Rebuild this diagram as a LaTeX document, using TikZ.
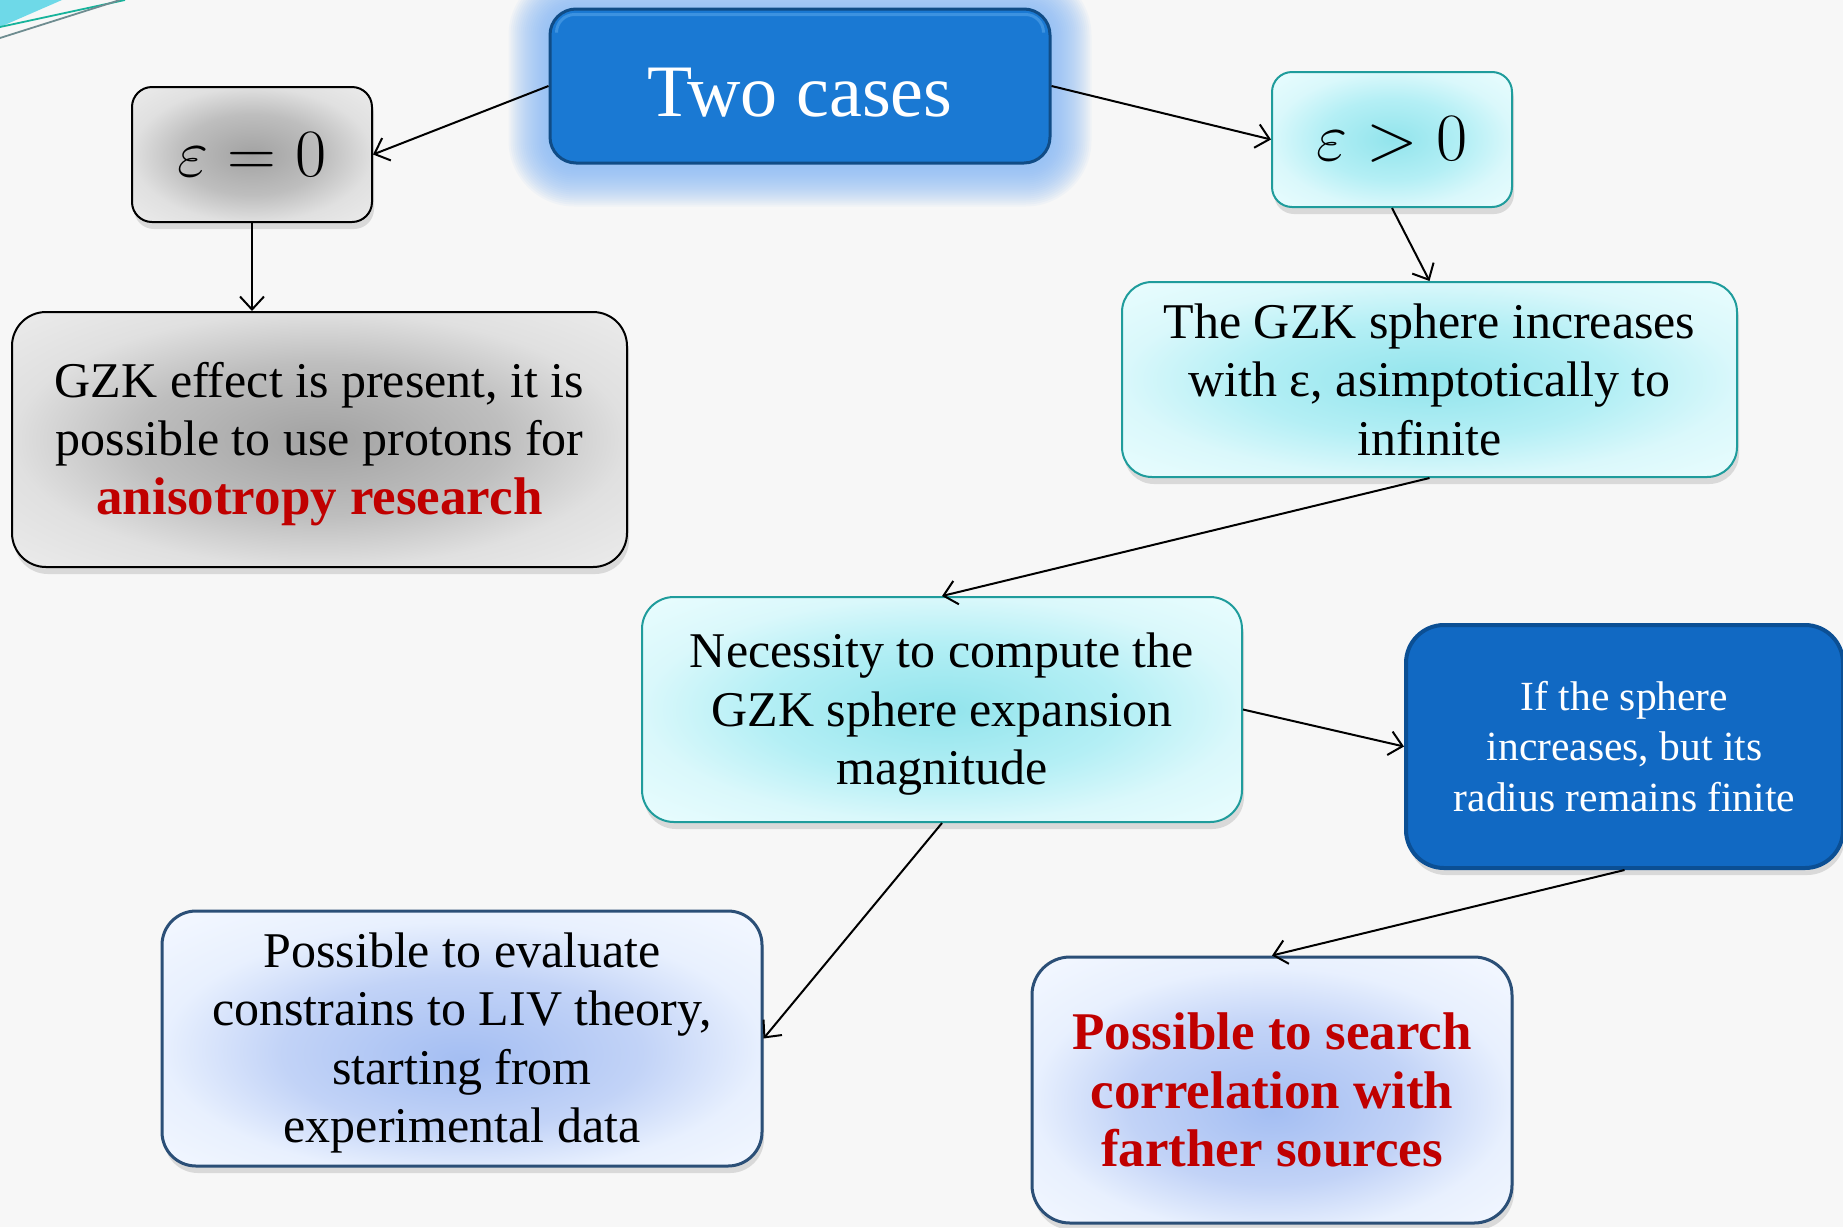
\documentclass[tikz,border=0pt]{standalone}
\usepackage{graphicx}
\usepackage{fontspec}
\setmainfont{Liberation Serif}
\usetikzlibrary{arrows.meta,shadows,calc}

\definecolor{bgcol}{HTML}{F7F7F7}
\definecolor{swoosh}{HTML}{6ED9E8}
\definecolor{swooshline}{HTML}{17B39B}
\definecolor{swooshgrey}{HTML}{6E8C90}
\definecolor{headblue}{HTML}{1A79D3}
\definecolor{headtop}{HTML}{3C92E0}
\definecolor{headedge}{HTML}{104C86}
\definecolor{glowblue}{HTML}{86B9F4}
\definecolor{greyin}{HTML}{A2A2A2}
\definecolor{greymid}{HTML}{BEBEBE}
\definecolor{greyout}{HTML}{E0E0E0}
\definecolor{greycorner}{HTML}{ECECEC}
\definecolor{cyanin}{HTML}{92E4EC}
\definecolor{cyanmid}{HTML}{B4EFF5}
\definecolor{cyanout}{HTML}{DAF8FB}
\definecolor{cyancorner}{HTML}{EAFDFE}
\definecolor{tealedge}{HTML}{1F9C9C}
\definecolor{lbin}{HTML}{A4BEF2}
\definecolor{lbmid}{HTML}{C2D3F7}
\definecolor{lbout}{HTML}{E8F0FE}
\definecolor{lbcorner}{HTML}{F4F8FF}
\definecolor{navyedge}{HTML}{2B4F77}
\definecolor{midblue}{HTML}{1169C3}
\definecolor{midedge}{HTML}{0B4F94}
\definecolor{alert}{HTML}{C00000}

% soft radial fills; the central 50bp square is stretched over the box,
% so 25bp is the edge of the box and 36bp its corners
\pgfdeclareradialshading{greyfill}{\pgfpoint{0bp}{0bp}}{color(0bp)=(greyin); color(15bp)=(greymid); color(25bp)=(greyout); color(36bp)=(greycorner); color(50bp)=(greycorner)}
\pgfdeclareradialshading{cyanfill}{\pgfpoint{0bp}{0bp}}{color(0bp)=(cyanin); color(15bp)=(cyanmid); color(25bp)=(cyanout); color(36bp)=(cyancorner); color(50bp)=(cyancorner)}
\pgfdeclareradialshading{palefill}{\pgfpoint{0bp}{-4bp}}{color(0bp)=(lbin); color(15bp)=(lbmid); color(25bp)=(lbout); color(36bp)=(lbcorner); color(50bp)=(lbcorner)}

% extra height on the first line to set the text block a little lower
\newcommand\toppad{\rule{0pt}{44pt}}
% large formula: set at \Huge and enlarged
\newcommand\bigformula[1]{\scalebox{2.72}{\Huge$#1$}}

\pgfdeclarelayer{bg}
\pgfdeclarelayer{glow}
\pgfsetlayers{bg,glow,main}

\begin{document}
\begin{tikzpicture}[x=1pt,y=-1pt,
  box/.style={rounded corners=28pt, line width=2pt, inner sep=0pt, align=center,
    drop shadow={shadow xshift=2pt, shadow yshift=-7pt, opacity=0.25},
    font=\fontsize{50}{58.5}\selectfont},
  greybox/.style={box, draw=black, shade, shading=greyfill},
  cyanbox/.style={box, draw=tealedge, shade, shading=cyanfill},
  paleblue/.style={box, draw=navyedge, line width=3pt, shade, shading=palefill},
  link/.style={line width=2pt, -{Straight Barb[length=13pt,width=24pt]}},
  redbold/.style={text=alert, font=\fontsize{53}{58.5}\selectfont\bfseries}
]
\useasboundingbox (0,0) rectangle (1843,1227);

\begin{pgfonlayer}{bg}
  \fill[bgcol] (0,0) rectangle (1843,1227);
  % corner ornament
  \fill[swoosh] (0,0) -- (62,0) -- (0,27) -- cycle;
  \draw[swooshline, line width=1.8pt] (0,27) -- (125,0);
  \draw[swooshgrey, line width=1.8pt] (0,38) -- (120,0);
\end{pgfonlayer}

% header
\node[rounded corners=26pt, fill=headblue, draw=headedge, line width=3pt,
      minimum width=500pt, minimum height=154pt, inner sep=0pt,
      text=white, font=\fontsize{74}{80}\selectfont] (tc) at (800,86) {\rule{0pt}{62pt}Two cases};
\draw[headtop, line width=3pt, rounded corners=18pt]
  ($(tc.north west)+(8,24)$) -- ($(tc.north west)+(8,7)$) -- ($(tc.north east)+(-8,7)$) -- ($(tc.north east)+(-8,24)$);

\begin{pgfonlayer}{glow}
  \foreach \k in {1,...,20} {
    \pgfmathsetmacro\rc{26+\k*2}
    \fill[glowblue, opacity=0.07, rounded corners=\rc pt]
      ($(tc.south west)+(-\k*2,\k*2+2)$) rectangle ($(tc.north east)+(\k*2,-\k*2+2)$);
  }
\end{pgfonlayer}

% the two cases
\node[greybox, rounded corners=20pt, minimum width=240pt, minimum height=135pt]
  (e0) at (252,154.5) {\bigformula{\varepsilon = 0}};
\node[cyanbox, rounded corners=20pt, minimum width=240pt, minimum height=135pt]
  (ep) at (1392,139.5) {\bigformula{\varepsilon > 0}};

% consequences
\node[greybox, rounded corners=34pt, minimum width=615pt, minimum height=255pt]
  (ge) at (319.5,439.5)
  {\toppad GZK effect is present, it is\\ possible to use protons for\\ {\fontsize{53}{58.5}\selectfont\bfseries\color{alert}anisotropy research}};

\node[cyanbox, rounded corners=30pt, minimum width=615pt, minimum height=195pt]
  (gs) at (1429.5,379.5)
  {The GZK sphere increases\\ with ε, asimptotically to\\ infinite};

\node[cyanbox, rounded corners=32pt, minimum width=600pt, minimum height=225pt]
  (nc) at (942,709.5)
  {\toppad Necessity to compute the\\ GZK sphere expansion\\ magnitude};

\node[box, rounded corners=38pt, fill=midblue, draw=midedge, line width=4pt,
      minimum width=437pt, minimum height=243pt, text=white,
      font=\fontsize{41.5}{50.5}\selectfont]
  (is) at (1624.5,746.5)
  {If the sphere\\ increases, but its\\ radius remains finite};

\node[paleblue, rounded corners=34pt, minimum width=600pt, minimum height=255pt]
  (pe) at (462,1038.5)
  {\toppad Possible to evaluate\\ constrains to LIV theory,\\ starting from\\ experimental data};

\node[paleblue, rounded corners=38pt, minimum width=480pt, minimum height=266pt,
      redbold]
  (ps) at (1272,1090)
  {Possible to search\\ correlation with\\ farther sources};

% connectors
\draw[link] (tc.west) -- (e0.east);
\draw[link] (tc.east) -- (ep.west);
\draw[link] (e0.south) -- (e0.south |- ge.north);
\draw[link] (ep.south) -- (gs.north);
\draw[link] (gs.south) -- (nc.north);
\draw[link] (nc.east) -- (is.west);
\draw[link] (nc.south) -- (pe.east);
\draw[link] (is.south) -- (ps.north);
\end{tikzpicture}
\end{document}
